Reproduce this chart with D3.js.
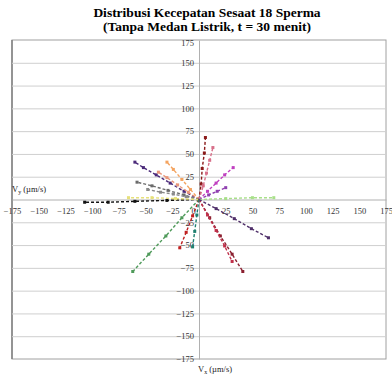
<!DOCTYPE html>
<html>
<head>
<meta charset="utf-8">
<script src="https://cdn.jsdelivr.net/npm/d3@7"></script>
<style>
  html, body { margin: 0; padding: 0; background: #fff; }
  svg { display: block; }
  svg text { font-family: "Liberation Serif", "Times New Roman", serif; }
</style>
</head>
<body>
<svg id="chart" width="392" height="377"></svg>
<script>
// Instantaneous velocity vectors (µm/s) of each sperm, as [vx, vy] points from the origin
const titleLines = ["Distribusi Kecepatan Sesaat 18 Sperma", "(Tanpa Medan Listrik, t = 30 menit)"];
const tickValues = [-175, -150, -125, -100, -75, -50, -25, 0, 25, 50, 75, 100, 125, 150, 175];
const seriesNames = ["S1","S2","S3","S4","S5","S6","S7","S8","S9","S10","S11","S12","S13","S14","S15","S16","S17","S18"];
const seriesColors = ["#4b2a7a","#f4a460","#e9967a","#6b6b6b","#8a8a8a","#8b1a1a","#d8708a","#c040c0","#9040b0","#111111","#e6e07a","#a8e08a","#4f9a5a","#8b2030","#c0304a","#50306a","#c02020","#208070"];
const s1  = [[0,0],[-14,9],[-27,18],[-40,27],[-52,35],[-60,41]];
const s2  = [[0,0],[-8,11],[-16,22],[-24,33],[-30,41]];
const s3  = [[0,0],[-10,8],[-20,16],[-30,24],[-38,30]];
const s4  = [[0,0],[-14,5],[-29,10],[-44,15],[-58,19]];
const s5  = [[0,0],[-12,3],[-24,6],[-36,8],[-48,11]];
const s6  = [[0,0],[2,17],[3,34],[5,51],[6,68]];
const s7  = [[0,0],[4,15],[7,29],[10,43],[13,57]];
const s8  = [[0,0],[8,9],[16,18],[24,27],[32,35]];
const s9  = [[0,0],[9,5],[17,9],[25,13]];
const s10 = [[0,0],[-30,-1],[-60,-2],[-85,-3],[-107,-3]];
const s11 = [[0,0],[-22,1],[-44,2],[-66,2]];
const s12 = [[0,0],[25,1],[50,2],[70,2]];
const s13 = [[0,0],[-16,-20],[-31,-40],[-47,-60],[-62,-79]];
const s14 = [[0,0],[10,-20],[20,-40],[31,-60],[41,-79]];
const s15 = [[0,0],[8,-17],[16,-34],[24,-51],[31,-68]];
const s16 = [[0,0],[16,-10],[33,-21],[49,-32],[65,-42]];
const s17 = [[0,0],[-6,-18],[-12,-36],[-18,-53]];
const s18 = [[0,0],[-2,-17],[-4,-35],[-6,-52]];
const seriesValues = [s1,s2,s3,s4,s5,s6,s7,s8,s9,s10,s11,s12,s13,s14,s15,s16,s17,s18];

const svg = d3.select("#chart");
const plot = { left: 12, right: 386, top: 40, bottom: 359 };
const serif = "'Liberation Serif', 'Times New Roman', serif";

const x = d3.scaleLinear().domain([-175, 175]).range([plot.left, plot.right]);
const y = d3.scaleLinear().domain([-175, 175]).range([plot.bottom, plot.top]);

// Title
svg.append("g").selectAll("text").data(titleLines).join("text")
  .attr("x", 207).attr("y", (d, i) => 17 + i * 14)
  .attr("text-anchor", "middle")
  .style("font-family", serif)
  .attr("font-weight", "bold").attr("font-size", 13.5)
  .attr("fill", "#000")
  .text(d => d);

// Plot area frame
svg.append("rect")
  .attr("x", plot.left).attr("y", plot.top)
  .attr("width", plot.right - plot.left).attr("height", plot.bottom - plot.top)
  .attr("fill", "#fff").attr("stroke", "#a0a0a0").attr("stroke-width", 1);
svg.append("line")
  .attr("x1", plot.left).attr("x2", plot.left)
  .attr("y1", plot.top).attr("y2", plot.bottom)
  .attr("stroke", "#808080").attr("stroke-width", 1.5);

// Horizontal gridlines
svg.append("g").selectAll("line").data(tickValues.filter(v => v !== 0 && Math.abs(v) !== 175)).join("line")
  .attr("x1", plot.left).attr("x2", plot.right)
  .attr("y1", d => y(d) + 0.5).attr("y2", d => y(d) + 0.5)
  .attr("stroke", "#cfcfcf").attr("stroke-width", 1);

// Axes crossing at the origin
const xAxis = d3.axisBottom(x).tickValues(tickValues).tickSize(0).tickPadding(8);
const yAxis = d3.axisLeft(y).tickValues(tickValues.filter(v => v !== 0)).tickSize(0).tickPadding(5);

const gx = svg.append("g").attr("transform", `translate(0,${y(0)})`).call(xAxis);
const gy = svg.append("g").attr("transform", `translate(${x(0)},0)`).call(yAxis);
[gx, gy].forEach(g => {
  g.attr("font-family", null);
  g.select(".domain").attr("stroke", "#b0b0b0");
  g.selectAll("text")
    .style("font-family", serif)
    .attr("font-size", 8.5).attr("fill", "#333");
});
gx.selectAll(".tick").filter(d => d === 0).select("text").attr("dx", -6);
gy.selectAll(".tick").filter(d => d === 175).select("text").attr("dy", "0.6em");

// Velocity series
const line = d3.line().x(d => x(d[0])).y(d => y(d[1]));
const gs = svg.append("g");
seriesValues.forEach((pts, i) => {
  const c = seriesColors[i];
  gs.append("path").datum(pts)
    .attr("d", line)
    .attr("fill", "none").attr("stroke", c)
    .attr("stroke-width", 1.4)
    .attr("stroke-dasharray", "3,2");
  gs.append("g").selectAll("rect").data(pts.slice(1)).join("rect")
    .attr("x", d => x(d[0]) - 1.5).attr("y", d => y(d[1]) - 1.5)
    .attr("width", 3).attr("height", 3)
    .attr("fill", c);
});

// Axis titles
svg.append("text").attr("x", 12).attr("y", 192)
  .style("font-family", serif).attr("font-size", 8.5)
  .attr("fill", "#222")
  .html('V<tspan font-size="6" dy="2">y</tspan><tspan dy="-2"> (µm/s)</tspan>');
svg.append("text").attr("x", 198).attr("y", 372)
  .style("font-family", serif).attr("font-size", 8.5)
  .attr("fill", "#222")
  .html('V<tspan font-size="6" dy="2">x</tspan><tspan dy="-2"> (µm/s)</tspan>');
</script>
</body>
</html>
